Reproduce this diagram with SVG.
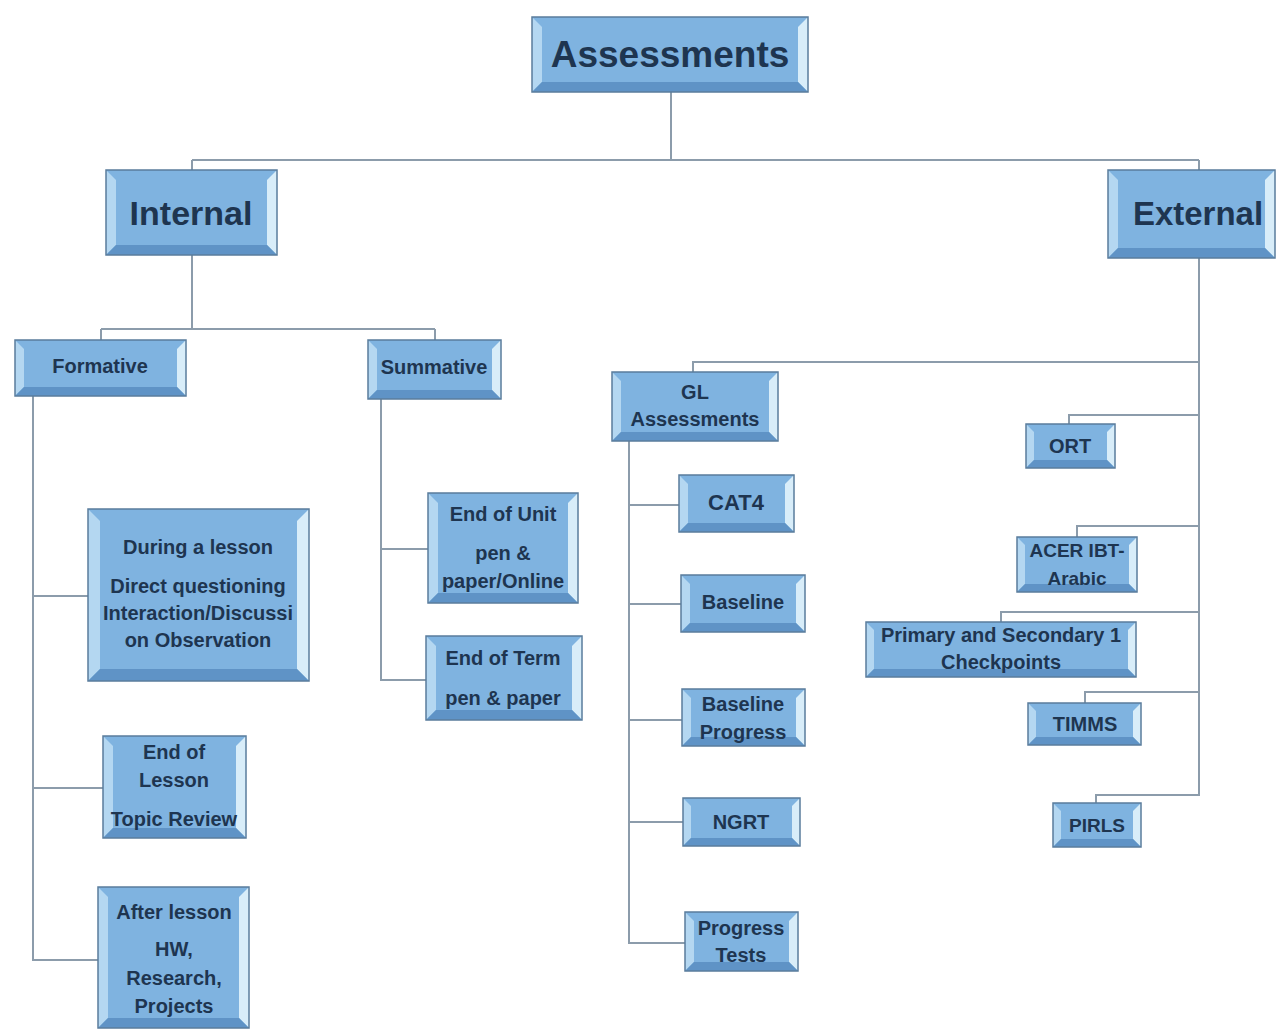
<svg xmlns="http://www.w3.org/2000/svg" width="1276" height="1030" viewBox="0 0 1276 1030">
<style>
.f{fill:#7fb3e0}
.l{fill:#b4d7f1}
.r{fill:#d8edf9}
.b{fill:#5f93c6}
.o{fill:none;stroke:#5a7c9c;stroke-width:1.5}
.c{fill:none;stroke:#8c9cab;stroke-width:2}
text{font-family:"Liberation Sans",Arial,sans-serif;font-weight:bold;fill:#1e3550;text-anchor:middle}
</style>
<rect width="1276" height="1030" fill="#ffffff"/>
<g id="connectors">
<path class="c" d="M671 92V160M192 160H1199M192 160V170M1199 160V170"/>
<path class="c" d="M192 255V329M101 329H435M101 329V340M435 329V340"/>
<path class="c" d="M33 396V960H98M33 596H88M33 788H103"/>
<path class="c" d="M381 399V680H426M381 549H428"/>
<path class="c" d="M1199 258V795H1096V803M1199 362H693V372M1199 415H1069V424M1199 526H1077V537M1199 612H1001V622M1199 692H1085V703"/>
<path class="c" d="M629 441V943H685M629 505H679M629 604H681M629 720H682M629 822H683"/>
</g>
<g id="assessments">
<rect class="f" x="532" y="17" width="276" height="75"/>
<path class="l" d="M532 17L542 27V82L532 92Z"/><path class="r" d="M808 17V92L798 82V27Z"/><path class="b" d="M532 92H808L798 82H542Z"/>
<rect class="o" x="532" y="17" width="276" height="75"/>
<text x="670" y="67" font-size="37">Assessments</text>
</g>
<g id="internal">
<rect class="f" x="106" y="170" width="171" height="85"/>
<path class="l" d="M106 170L116 180V245L106 255Z"/><path class="r" d="M277 170V255L267 245V180Z"/><path class="b" d="M106 255H277L267 245H116Z"/>
<rect class="o" x="106" y="170" width="171" height="85"/>
<text x="191" y="225" font-size="34">Internal</text>
</g>
<g id="external">
<rect class="f" x="1108" y="170" width="167" height="88"/>
<path class="l" d="M1108 170L1118 180V248L1108 258Z"/><path class="r" d="M1275 170V258L1265 248V180Z"/><path class="b" d="M1108 258H1275L1265 248H1118Z"/>
<rect class="o" x="1108" y="170" width="167" height="88"/>
<text x="1198" y="225" font-size="33">External</text>
</g>
<g id="formative">
<rect class="f" x="15" y="340" width="171" height="56"/>
<path class="l" d="M15 340L24 349V387L15 396Z"/><path class="r" d="M186 340V396L177 387V349Z"/><path class="b" d="M15 396H186L177 387H24Z"/>
<rect class="o" x="15" y="340" width="171" height="56"/>
<text x="100" y="373" font-size="20">Formative</text>
</g>
<g id="summative">
<rect class="f" x="368" y="340" width="133" height="59"/>
<path class="l" d="M368 340L377 349V390L368 399Z"/><path class="r" d="M501 340V399L492 390V349Z"/><path class="b" d="M368 399H501L492 390H377Z"/>
<rect class="o" x="368" y="340" width="133" height="59"/>
<text x="434" y="374" font-size="20">Summative</text>
</g>
<g id="gl">
<rect class="f" x="612" y="372" width="166" height="69"/>
<path class="l" d="M612 372L621 381V432L612 441Z"/><path class="r" d="M778 372V441L769 432V381Z"/><path class="b" d="M612 441H778L769 432H621Z"/>
<rect class="o" x="612" y="372" width="166" height="69"/>
<text x="695" y="399" font-size="20">GL</text>
<text x="695" y="426" font-size="20">Assessments</text>
</g>
<g id="during">
<rect class="f" x="88" y="509" width="221" height="172"/>
<path class="l" d="M88 509L100 521V669L88 681Z"/><path class="r" d="M309 509V681L297 669V521Z"/><path class="b" d="M88 681H309L297 669H100Z"/>
<rect class="o" x="88" y="509" width="221" height="172"/>
<text x="198" y="554" font-size="20">During a lesson</text>
<text x="198" y="593" font-size="20">Direct questioning</text>
<text x="198" y="620" font-size="20">Interaction/Discussi</text>
<text x="198" y="647" font-size="20">on Observation</text>
</g>
<g id="endlesson">
<rect class="f" x="103" y="736" width="143" height="102"/>
<path class="l" d="M103 736L113 746V828L103 838Z"/><path class="r" d="M246 736V838L236 828V746Z"/><path class="b" d="M103 838H246L236 828H113Z"/>
<rect class="o" x="103" y="736" width="143" height="102"/>
<text x="174" y="759" font-size="20">End of</text>
<text x="174" y="787" font-size="20">Lesson</text>
<text x="174" y="826" font-size="20">Topic Review</text>
</g>
<g id="afterlesson">
<rect class="f" x="98" y="887" width="151" height="141"/>
<path class="l" d="M98 887L108 897V1018L98 1028Z"/><path class="r" d="M249 887V1028L239 1018V897Z"/><path class="b" d="M98 1028H249L239 1018H108Z"/>
<rect class="o" x="98" y="887" width="151" height="141"/>
<text x="174" y="919" font-size="20">After lesson</text>
<text x="174" y="956" font-size="20">HW,</text>
<text x="174" y="985" font-size="20">Research,</text>
<text x="174" y="1013" font-size="20">Projects</text>
</g>
<g id="endunit">
<rect class="f" x="428" y="493" width="150" height="110"/>
<path class="l" d="M428 493L438 503V593L428 603Z"/><path class="r" d="M578 493V603L568 593V503Z"/><path class="b" d="M428 603H578L568 593H438Z"/>
<rect class="o" x="428" y="493" width="150" height="110"/>
<text x="503" y="521" font-size="20">End of Unit</text>
<text x="503" y="560" font-size="20">pen &amp;</text>
<text x="503" y="588" font-size="20">paper/Online</text>
</g>
<g id="endterm">
<rect class="f" x="426" y="636" width="156" height="84"/>
<path class="l" d="M426 636L436 646V710L426 720Z"/><path class="r" d="M582 636V720L572 710V646Z"/><path class="b" d="M426 720H582L572 710H436Z"/>
<rect class="o" x="426" y="636" width="156" height="84"/>
<text x="503" y="665" font-size="20">End of Term</text>
<text x="503" y="705" font-size="20">pen &amp; paper</text>
</g>
<g id="cat4">
<rect class="f" x="679" y="475" width="115" height="57"/>
<path class="l" d="M679 475L688 484V523L679 532Z"/><path class="r" d="M794 475V532L785 523V484Z"/><path class="b" d="M679 532H794L785 523H688Z"/>
<rect class="o" x="679" y="475" width="115" height="57"/>
<text x="736" y="510" font-size="22">CAT4</text>
</g>
<g id="baseline">
<rect class="f" x="681" y="575" width="124" height="57"/>
<path class="l" d="M681 575L690 584V623L681 632Z"/><path class="r" d="M805 575V632L796 623V584Z"/><path class="b" d="M681 632H805L796 623H690Z"/>
<rect class="o" x="681" y="575" width="124" height="57"/>
<text x="743" y="609" font-size="20">Baseline</text>
</g>
<g id="baselineprogress">
<rect class="f" x="682" y="689" width="123" height="57"/>
<path class="l" d="M682 689L691 698V737L682 746Z"/><path class="r" d="M805 689V746L796 737V698Z"/><path class="b" d="M682 746H805L796 737H691Z"/>
<rect class="o" x="682" y="689" width="123" height="57"/>
<text x="743" y="711" font-size="20">Baseline</text>
<text x="743" y="739" font-size="20">Progress</text>
</g>
<g id="ngrt">
<rect class="f" x="683" y="798" width="117" height="48"/>
<path class="l" d="M683 798L691 806V838L683 846Z"/><path class="r" d="M800 798V846L792 838V806Z"/><path class="b" d="M683 846H800L792 838H691Z"/>
<rect class="o" x="683" y="798" width="117" height="48"/>
<text x="741" y="829" font-size="20">NGRT</text>
</g>
<g id="progresstests">
<rect class="f" x="685" y="912" width="113" height="59"/>
<path class="l" d="M685 912L694 921V962L685 971Z"/><path class="r" d="M798 912V971L789 962V921Z"/><path class="b" d="M685 971H798L789 962H694Z"/>
<rect class="o" x="685" y="912" width="113" height="59"/>
<text x="741" y="935" font-size="20">Progress</text>
<text x="741" y="962" font-size="20">Tests</text>
</g>
<g id="ort">
<rect class="f" x="1026" y="424" width="89" height="44"/>
<path class="l" d="M1026 424L1034 432V460L1026 468Z"/><path class="r" d="M1115 424V468L1107 460V432Z"/><path class="b" d="M1026 468H1115L1107 460H1034Z"/>
<rect class="o" x="1026" y="424" width="89" height="44"/>
<text x="1070" y="453" font-size="20">ORT</text>
</g>
<g id="acer">
<rect class="f" x="1017" y="537" width="120" height="55"/>
<path class="l" d="M1017 537L1025 545V584L1017 592Z"/><path class="r" d="M1137 537V592L1129 584V545Z"/><path class="b" d="M1017 592H1137L1129 584H1025Z"/>
<rect class="o" x="1017" y="537" width="120" height="55"/>
<text x="1077" y="557" font-size="19">ACER IBT-</text>
<text x="1077" y="585" font-size="19">Arabic</text>
</g>
<g id="checkpoints">
<rect class="f" x="866" y="622" width="270" height="55"/>
<path class="l" d="M866 622L874 630V669L866 677Z"/><path class="r" d="M1136 622V677L1128 669V630Z"/><path class="b" d="M866 677H1136L1128 669H874Z"/>
<rect class="o" x="866" y="622" width="270" height="55"/>
<text x="1001" y="642" font-size="20">Primary and Secondary 1</text>
<text x="1001" y="669" font-size="20">Checkpoints</text>
</g>
<g id="timms">
<rect class="f" x="1028" y="703" width="113" height="42"/>
<path class="l" d="M1028 703L1036 711V737L1028 745Z"/><path class="r" d="M1141 703V745L1133 737V711Z"/><path class="b" d="M1028 745H1141L1133 737H1036Z"/>
<rect class="o" x="1028" y="703" width="113" height="42"/>
<text x="1085" y="731" font-size="20">TIMMS</text>
</g>
<g id="pirls">
<rect class="f" x="1053" y="803" width="88" height="44"/>
<path class="l" d="M1053 803L1061 811V839L1053 847Z"/><path class="r" d="M1141 803V847L1133 839V811Z"/><path class="b" d="M1053 847H1141L1133 839H1061Z"/>
<rect class="o" x="1053" y="803" width="88" height="44"/>
<text x="1097" y="832" font-size="19">PIRLS</text>
</g>
</svg>
